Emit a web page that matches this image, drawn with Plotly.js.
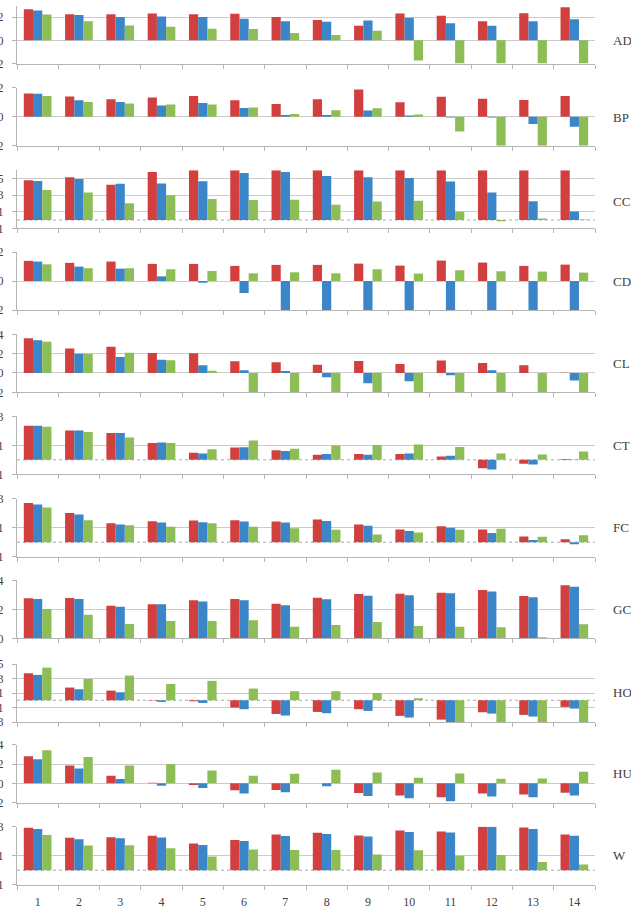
<!DOCTYPE html>
<html><head><meta charset="utf-8">
<script src="https://cdn.plot.ly/plotly-3.0.1.min.js"></script>
<style>html,body{margin:0;padding:0;background:#fff}#chart{width:631px;height:909px}</style>
</head><body><div id="chart"></div>
<script>
const categories = ['1','2','3','4','5','6','7','8','9','10','11','12','13','14'];
const panelNames = ['AD','BP','CC','CD','CL','CT','FC','GC','HO','HU','W'];

const AD_red   = [2.68,2.25,2.25,2.31,2.25,2.28,2.0,1.74,1.25,2.31,2.11,1.65,2.34,2.85];
const AD_blue  = [2.56,2.19,2.0,2.05,2.0,1.85,1.65,1.6,1.71,1.94,1.48,1.25,1.65,1.82];
const AD_green = [2.22,1.65,1.28,1.17,1.0,0.97,0.63,0.46,0.83,-1.74,-2,-2,-2,-2];

const BP_red   = [1.6,1.4,1.21,1.33,1.42,1.14,0.88,1.21,1.88,1.0,1.37,1.23,1.16,1.42];
const BP_blue  = [1.58,1.14,1.02,0.77,0.95,0.6,0.12,0.12,0.42,0.09,-0.05,-0.05,-0.51,-0.7];
const BP_green = [1.42,1.02,0.91,0.84,0.84,0.63,0.19,0.44,0.58,0.16,-1.02,-2,-2,-2];

const CC_red   = [4.8,5.16,4.25,5.8,6,6,6,6,6,6,6,6,6,6];
const CC_blue  = [4.72,4.96,4.37,4.4,4.68,5.67,5.79,5.32,5.16,5.08,4.64,3.33,2.26,1.03];
const CC_green = [3.61,3.33,2.02,2.98,2.54,2.42,2.46,1.83,2.22,2.34,0.99,-0.16,0.18,0.06];

const CD_red   = [1.39,1.25,1.34,1.18,1.18,1.04,1.11,1.11,1.2,1.06,1.41,1.27,1.04,1.13];
const CD_blue  = [1.34,0.99,0.85,0.32,-0.12,-0.83,-2,-2,-2,-2,-2,-2,-2,-2];
const CD_green = [1.15,0.88,0.88,0.81,0.69,0.53,0.6,0.53,0.81,0.51,0.74,0.67,0.65,0.58];

const CL_red   = [3.59,2.52,2.72,2.07,2.03,1.21,1.1,0.86,1.24,0.93,1.28,1.03,0.79,0.02];
const CL_blue  = [3.38,2.0,1.66,1.38,0.79,0.28,0.21,-0.45,-1.07,-0.86,-0.24,0.28,0,-0.79];
const CL_green = [3.24,2.0,2.1,1.31,0.24,-2,-2,-2,-2,-2,-2,-2,-2,-2];

const CT_red   = [2.35,2.02,1.84,1.16,0.49,0.84,0.65,0.35,0.4,0.4,0.23,-0.58,-0.28,0.05];
const CT_blue  = [2.35,2.02,1.84,1.19,0.44,0.86,0.6,0.4,0.35,0.44,0.28,-0.67,-0.33,-0.02];
const CT_green = [2.28,1.91,1.53,1.16,0.72,1.33,0.77,0.98,1.02,1.05,0.88,0.44,0.37,0.58];

const FC_red   = [2.7,2.02,1.31,1.45,1.49,1.52,1.43,1.56,1.22,0.87,1.1,0.87,0.39,0.21];
const FC_blue  = [2.6,1.91,1.22,1.36,1.38,1.43,1.36,1.47,1.13,0.78,0.99,0.64,0.16,-0.14];
const FC_green = [2.39,1.52,1.17,1.06,1.31,1.06,0.97,0.85,0.53,0.67,0.85,0.92,0.37,0.48];

const GC_red   = [2.76,2.78,2.25,2.34,2.62,2.71,2.39,2.8,3.06,3.08,3.15,3.33,2.92,3.66];
const GC_blue  = [2.71,2.71,2.18,2.34,2.53,2.62,2.28,2.69,2.94,2.97,3.1,3.22,2.83,3.56];
const GC_green = [2.02,1.63,0.99,1.2,1.2,1.24,0.8,0.92,1.13,0.85,0.8,0.76,0.07,0.97];

const HO_red   = [3.72,1.75,1.33,-0.05,-0.14,-1.01,-1.89,-1.61,-1.24,-2.16,-2.67,-1.66,-2.02,-0.92];
const HO_blue  = [3.49,1.52,1.1,-0.23,-0.37,-1.24,-2.11,-1.79,-1.47,-2.39,-3,-1.84,-2.25,-1.15];
const HO_green = [4.5,2.94,3.4,2.25,2.67,1.61,1.24,1.24,1.01,0.28,-3,-3,-3,-3];

const HU_red   = [2.8,1.85,0.79,0.07,-0.17,-0.72,-0.68,0,-0.99,-1.26,-1.44,-1.06,-1.16,-0.96];
const HU_blue  = [2.5,1.54,0.44,-0.24,-0.48,-1.06,-0.92,-0.31,-1.3,-1.54,-1.85,-1.37,-1.44,-1.26];
const HU_green = [3.42,2.74,1.85,1.98,1.33,0.79,0.99,1.4,1.13,0.58,1.03,0.48,0.51,1.2];

const W_red    = [2.93,2.23,2.28,2.37,1.84,2.09,2.47,2.58,2.4,2.74,2.67,3,2.95,2.47];
const W_blue   = [2.84,2.14,2.21,2.26,1.74,2.02,2.35,2.49,2.33,2.63,2.6,3,2.84,2.37];
const W_green  = [2.42,1.7,1.72,1.51,0.95,1.42,1.4,1.4,1.09,1.37,1.0,1.05,0.56,0.4];

// y tick labels per panel
const yTicks = [[-2,0,2],[-2,0,2],[-1,1,3,5],[-2,0,2],[-2,0,2,4],[-1,1,3],[-1,1,3],[0,2,4],[-3,-1,1,3,5],[-2,0,2,4],[-1,1,3]];
const yRanges = [[-2,3],[-2,2],[-1,6],[-2,2],[-2,4],[-1,3],[-1,3],[0,4],[-3,5],[-2,4],[-1,3]];

const seriesData = [
  [AD_red,AD_blue,AD_green],[BP_red,BP_blue,BP_green],[CC_red,CC_blue,CC_green],
  [CD_red,CD_blue,CD_green],[CL_red,CL_blue,CL_green],[CT_red,CT_blue,CT_green],
  [FC_red,FC_blue,FC_green],[GC_red,GC_blue,GC_green],[HO_red,HO_blue,HO_green],
  [HU_red,HU_blue,HU_green],[W_red,W_blue,W_green]
];

// layout geometry (pixels)
const H = 909;
const panelBottoms = [63.5,145.7,228.3,310,392.3,474.3,556.7,638.3,722,802.7,884.7];
const panelH = 58;
const labelY = [40.7,117,201,281,363.3,445,527,609,692,773,855];
const colors = ['#d13f3f','#3a86c8','#8dbd55'];
const gridCol = '#cbcbcb';
const axisCol = '#b5b5b5';
const font = {family:'Liberation Serif, Times New Roman, serif', size:12, color:'#404040'};

const traces = [];
const layout = {
  width:631, height:909,
  margin:{l:17, r:36, t:0, b:0},
  paper_bgcolor:'#fff', plot_bgcolor:'#fff',
  showlegend:false,
  barmode:'group', bargap:0.33, bargroupgap:0,
  font:font,
  shapes:[], annotations:[]
};

for (let i = 0; i < 11; i++) {
  const n = i === 0 ? '' : String(i+1);
  const xa = 'x' + n, ya = 'y' + n;
  for (let s = 0; s < 3; s++) {
    traces.push({type:'bar', x:categories, y:seriesData[i][s], xaxis:xa, yaxis:ya,
      marker:{color:colors[s], line:{width:0}}, hoverinfo:'none'});
  }
  const bottom = (H - panelBottoms[i]) / H;
  const top = (H - panelBottoms[i] + panelH) / H;
  const last = i === 10;
  layout['xaxis' + n] = {
    type:'category', anchor:ya, domain:[0,1], range:[-0.5,13.5],
    showline:true, linecolor:axisCol, linewidth:1,
    ticks:'outside', ticklen:4, tickcolor:axisCol, tickson:'boundaries',
    showgrid:false, zeroline:false,
    showticklabels:last, tickfont:font, ticklabelstandoff:6,
    fixedrange:true
  };
  layout['yaxis' + n] = {
    anchor:xa, domain:[bottom, top], range:yRanges[i],
    tickmode:'array', tickvals:yTicks[i], ticktext:yTicks[i].map(String),
    showgrid:true, gridcolor:gridCol, gridwidth:1, zeroline:false,
    showline:true, linecolor:axisCol, linewidth:1,
    ticks:'outside', ticklen:4, tickcolor:axisCol,
    tickfont:font, ticklabelstandoff:6, fixedrange:true
  };
  if (!yTicks[i].includes(0)) {
    layout.shapes.push({type:'line', xref:xa + ' domain', x0:0, x1:1, yref:ya, y0:0, y1:0,
      line:{color:'#a8a8a8', width:1, dash:'3px,3px'}, layer:'below'});
  }
  layout.annotations.push({text:panelNames[i], xref:'paper', yref:'paper',
    x:(611-17)/578, y:(H - labelY[i]) / H, xanchor:'left', yanchor:'middle',
    showarrow:false, font:{family:font.family, size:13, color:'#404040'}});
}

Plotly.newPlot('chart', traces, layout, {staticPlot:true, displayModeBar:false});
</script>
</body></html>
